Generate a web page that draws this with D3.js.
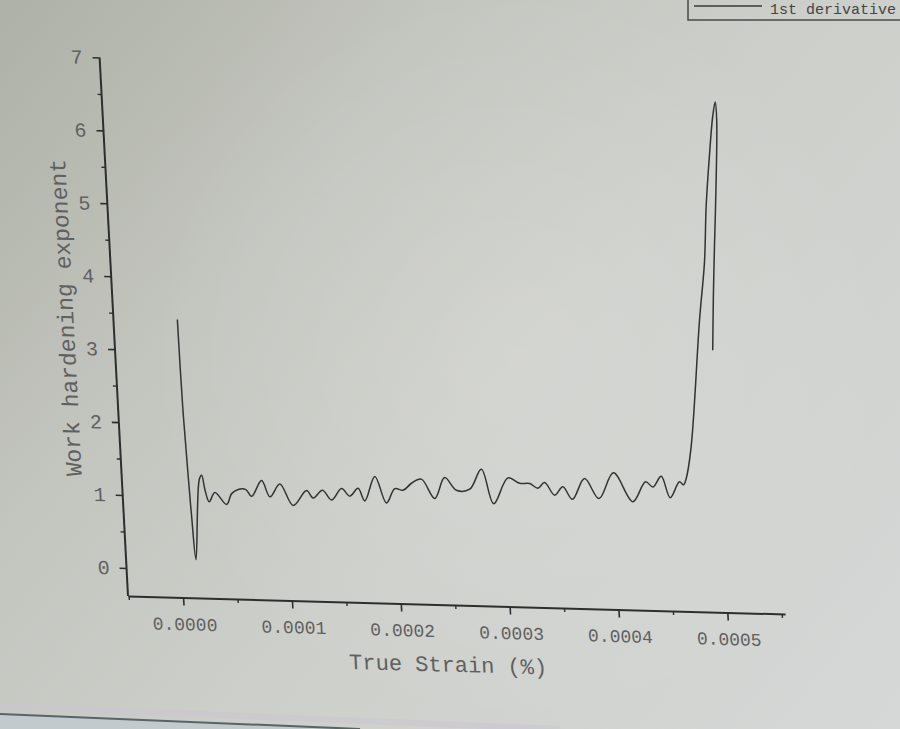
<!DOCTYPE html>
<html>
<head>
<meta charset="utf-8">
<script src="https://cdn.jsdelivr.net/npm/d3@7"></script>
<style>
  html, body { margin: 0; padding: 0; background: #cbccc7; }
  svg { display: block; }
</style>
</head>
<body>
<script>
// ---------------- data ----------------
const strain = [
  0.0000082, 0.0000089, 0.0000106, 0.0000118, 0.0000137, 0.0000206, 0.0000230, 0.0000254, 0.0000287, 0.0000344,
  0.0000446, 0.0000497, 0.0000560, 0.0000630, 0.0000679, 0.0000779, 0.0000848, 0.0000946, 0.0001057, 0.0001188,
  0.0001245, 0.0001335, 0.0001413, 0.0001511, 0.0001583, 0.0001663, 0.0001719, 0.0001823, 0.0001917, 0.0002001,
  0.0002076, 0.0002157, 0.0002250, 0.0002363, 0.0002465, 0.0002567, 0.0002690, 0.0002807, 0.0002903, 0.0003047,
  0.0003152, 0.0003244, 0.0003318, 0.0003382, 0.0003468, 0.0003548, 0.0003629, 0.0003752, 0.0003874, 0.0004021,
  0.0004184, 0.0004311, 0.0004376, 0.0004458, 0.0004530, 0.0004623, 0.0004659, 0.0004687, 0.0004748, 0.0004886,
  0.0004960, 0.0005002, 0.0005056, 0.0005106, 0.0005136, 0.0005141, 0.0005107, 0.0005059, 0.0005025, 0.0004993
];
const hardeningExponent = [
  3.43, 2.24, 1.28, 0.73, 0.14, 1.24, 1.30, 1.10, 0.94, 1.07,
  0.91, 1.06, 1.12, 1.12, 1.03, 1.25, 1.03, 1.21, 0.92, 1.13,
  1.03, 1.14, 1.01, 1.17, 1.07, 1.18, 1.01, 1.35, 0.99, 1.19,
  1.17, 1.27, 1.33, 1.07, 1.36, 1.19, 1.21, 1.49, 1.02, 1.38,
  1.31, 1.31, 1.25, 1.33, 1.16, 1.28, 1.11, 1.40, 1.13, 1.49,
  1.10, 1.38, 1.31, 1.46, 1.17, 1.39, 1.35, 1.44, 1.88, 3.62,
  4.42, 5.18, 5.87, 6.42, 6.62, 6.37, 5.55, 4.63, 3.95, 3.21
];
const xTickValues = [0, 0.0001, 0.0002, 0.0003, 0.0004, 0.0005];
const xTickLabels = ["0.0000", "0.0001", "0.0002", "0.0003", "0.0004", "0.0005"];
const xMinorTicks = [-0.00005, 0.00005, 0.00015, 0.00025, 0.00035, 0.00045, 0.00055];
const yTickValues = [0, 1, 2, 3, 4, 5, 6, 7];
const yTickLabels = ["0", "1", "2", "3", "4", "5", "6", "7"];
const yMinorTicks = [0.5, 1.5, 2.5, 3.5, 4.5, 5.5, 6.5];
const xTitle = "True Strain (%)";
const yTitle = "Work hardening exponent";
const legendLabel = "1st derivative";

// ---------------- layout ----------------
const W = 900, H = 729;
const plotW = 657, plotH = 548;
const FONT = "'Liberation Mono', 'DejaVu Sans Mono', monospace";

const svg = d3.select("body").append("svg")
  .attr("width", W).attr("height", H);

const defs = svg.append("defs");
const bg = defs.append("linearGradient").attr("id", "bg")
  .attr("gradientUnits", "userSpaceOnUse")
  .attr("x1", 0).attr("y1", 0).attr("x2", 900).attr("y2", 729);
bg.append("stop").attr("offset", 0).attr("stop-color", "#aeb1a6");
bg.append("stop").attr("offset", 0.3).attr("stop-color", "#c3c5bf");
bg.append("stop").attr("offset", 0.55).attr("stop-color", "#cdcfca");
bg.append("stop").attr("offset", 1).attr("stop-color", "#d6d8d8");
const glow = defs.append("radialGradient").attr("id", "glow")
  .attr("gradientUnits", "userSpaceOnUse")
  .attr("cx", 520).attr("cy", 360).attr("r", 380);
glow.append("stop").attr("offset", 0).attr("stop-color", "#ffffff").attr("stop-opacity", 0.14);
glow.append("stop").attr("offset", 1).attr("stop-color", "#ffffff").attr("stop-opacity", 0);

svg.append("rect").attr("width", W).attr("height", H).attr("fill", "url(#bg)");
svg.append("rect").attr("width", W).attr("height", H).attr("fill", "url(#glow)");

// screen edge at the bottom of the photo
svg.append("path")
  .attr("d", "M0,714 L360,729 L0,729 Z")
  .attr("fill", "#c3cacd");
svg.append("path")
  .attr("d", "M0,706 L560,729")
  .attr("stroke", "#cbc6d0").attr("stroke-width", 6).attr("fill", "none").attr("opacity", 0.6);
svg.append("path")
  .attr("d", "M0,714 L360,729")
  .attr("stroke", "#58636a").attr("stroke-width", 2).attr("fill", "none");

// legend box (cut off at the top-right edge of the photo)
const legend = svg.append("g");
legend.append("rect")
  .attr("x", 688).attr("y", -10).attr("width", 240).attr("height", 30)
  .attr("fill", "none").attr("stroke", "#4a4a4a").attr("stroke-width", 1.5);
legend.append("line")
  .attr("x1", 694).attr("x2", 762).attr("y1", 6).attr("y2", 6)
  .attr("stroke", "#3a3a3a").attr("stroke-width", 1.5);
legend.append("text")
  .attr("x", 770).attr("y", 14)
  .attr("font-family", FONT).attr("font-size", 15).attr("fill", "#444")
  .text(legendLabel);

// the plot is slightly skewed like the photographed screen
const plot = svg.append("g")
  .attr("transform", "matrix(1,0.0274,0.0527,1,128,596)");

const x = d3.scaleLinear().domain([-0.0000506, 0.000553]).range([0, plotW]);
const y = d3.scaleLinear().domain([-0.385, 7.13]).range([0, -plotH]);

const AX = "#2e2e2e", LAB = "#606060";

// X axis
const gx = plot.append("g")
  .call(d3.axisBottom(x).tickValues(xTickValues)
    .tickFormat((d, i) => xTickLabels[i])
    .tickSize(8).tickPadding(12).tickSizeOuter(0));
gx.select(".domain").attr("stroke", AX).attr("stroke-width", 2);
gx.selectAll(".tick line").attr("stroke", AX).attr("stroke-width", 1.6);
gx.selectAll(".tick text").attr("font-family", FONT).attr("font-size", 18).attr("fill", LAB);

const gxm = plot.append("g")
  .call(d3.axisBottom(x).tickValues(xMinorTicks).tickFormat("").tickSize(4));
gxm.select(".domain").remove();
gxm.selectAll(".tick line").attr("stroke", AX).attr("stroke-width", 1.4);

// Y axis
const gy = plot.append("g")
  .call(d3.axisLeft(y).tickValues(yTickValues)
    .tickFormat((d, i) => yTickLabels[i])
    .tickSize(7).tickPadding(10).tickSizeOuter(0));
gy.select(".domain").attr("d", `M0,${y(-0.385)}V${y(7)}`)
  .attr("stroke", AX).attr("stroke-width", 2);
gy.selectAll(".tick line").attr("stroke", AX).attr("stroke-width", 1.6);
gy.selectAll(".tick text").attr("font-family", FONT).attr("font-size", 20).attr("fill", LAB);

const gym = plot.append("g")
  .call(d3.axisLeft(y).tickValues(yMinorTicks).tickFormat("").tickSize(4));
gym.select(".domain").remove();
gym.selectAll(".tick line").attr("stroke", AX).attr("stroke-width", 1.4);

// axis titles
plot.append("text")
  .attr("x", 317).attr("y", 67)
  .attr("text-anchor", "middle")
  .attr("font-family", FONT).attr("font-size", 22).attr("fill", LAB)
  .text(xTitle);
plot.append("text")
  .attr("transform", "translate(-48,-277) rotate(-90)")
  .attr("text-anchor", "middle").attr("dy", "0.35em")
  .attr("font-family", FONT).attr("font-size", 23).attr("fill", LAB)
  .text(yTitle);

// curve
const idx = d3.range(strain.length);
const line = d3.line()
  .x(i => x(strain[i]))
  .y(i => y(hardeningExponent[i]))
  .curve(d3.curveCatmullRom.alpha(0.5));
plot.append("path")
  .attr("d", line(idx))
  .attr("fill", "none")
  .attr("stroke", "#333")
  .attr("stroke-width", 1.5)
  .attr("stroke-linejoin", "round");
</script>
</body>
</html>
